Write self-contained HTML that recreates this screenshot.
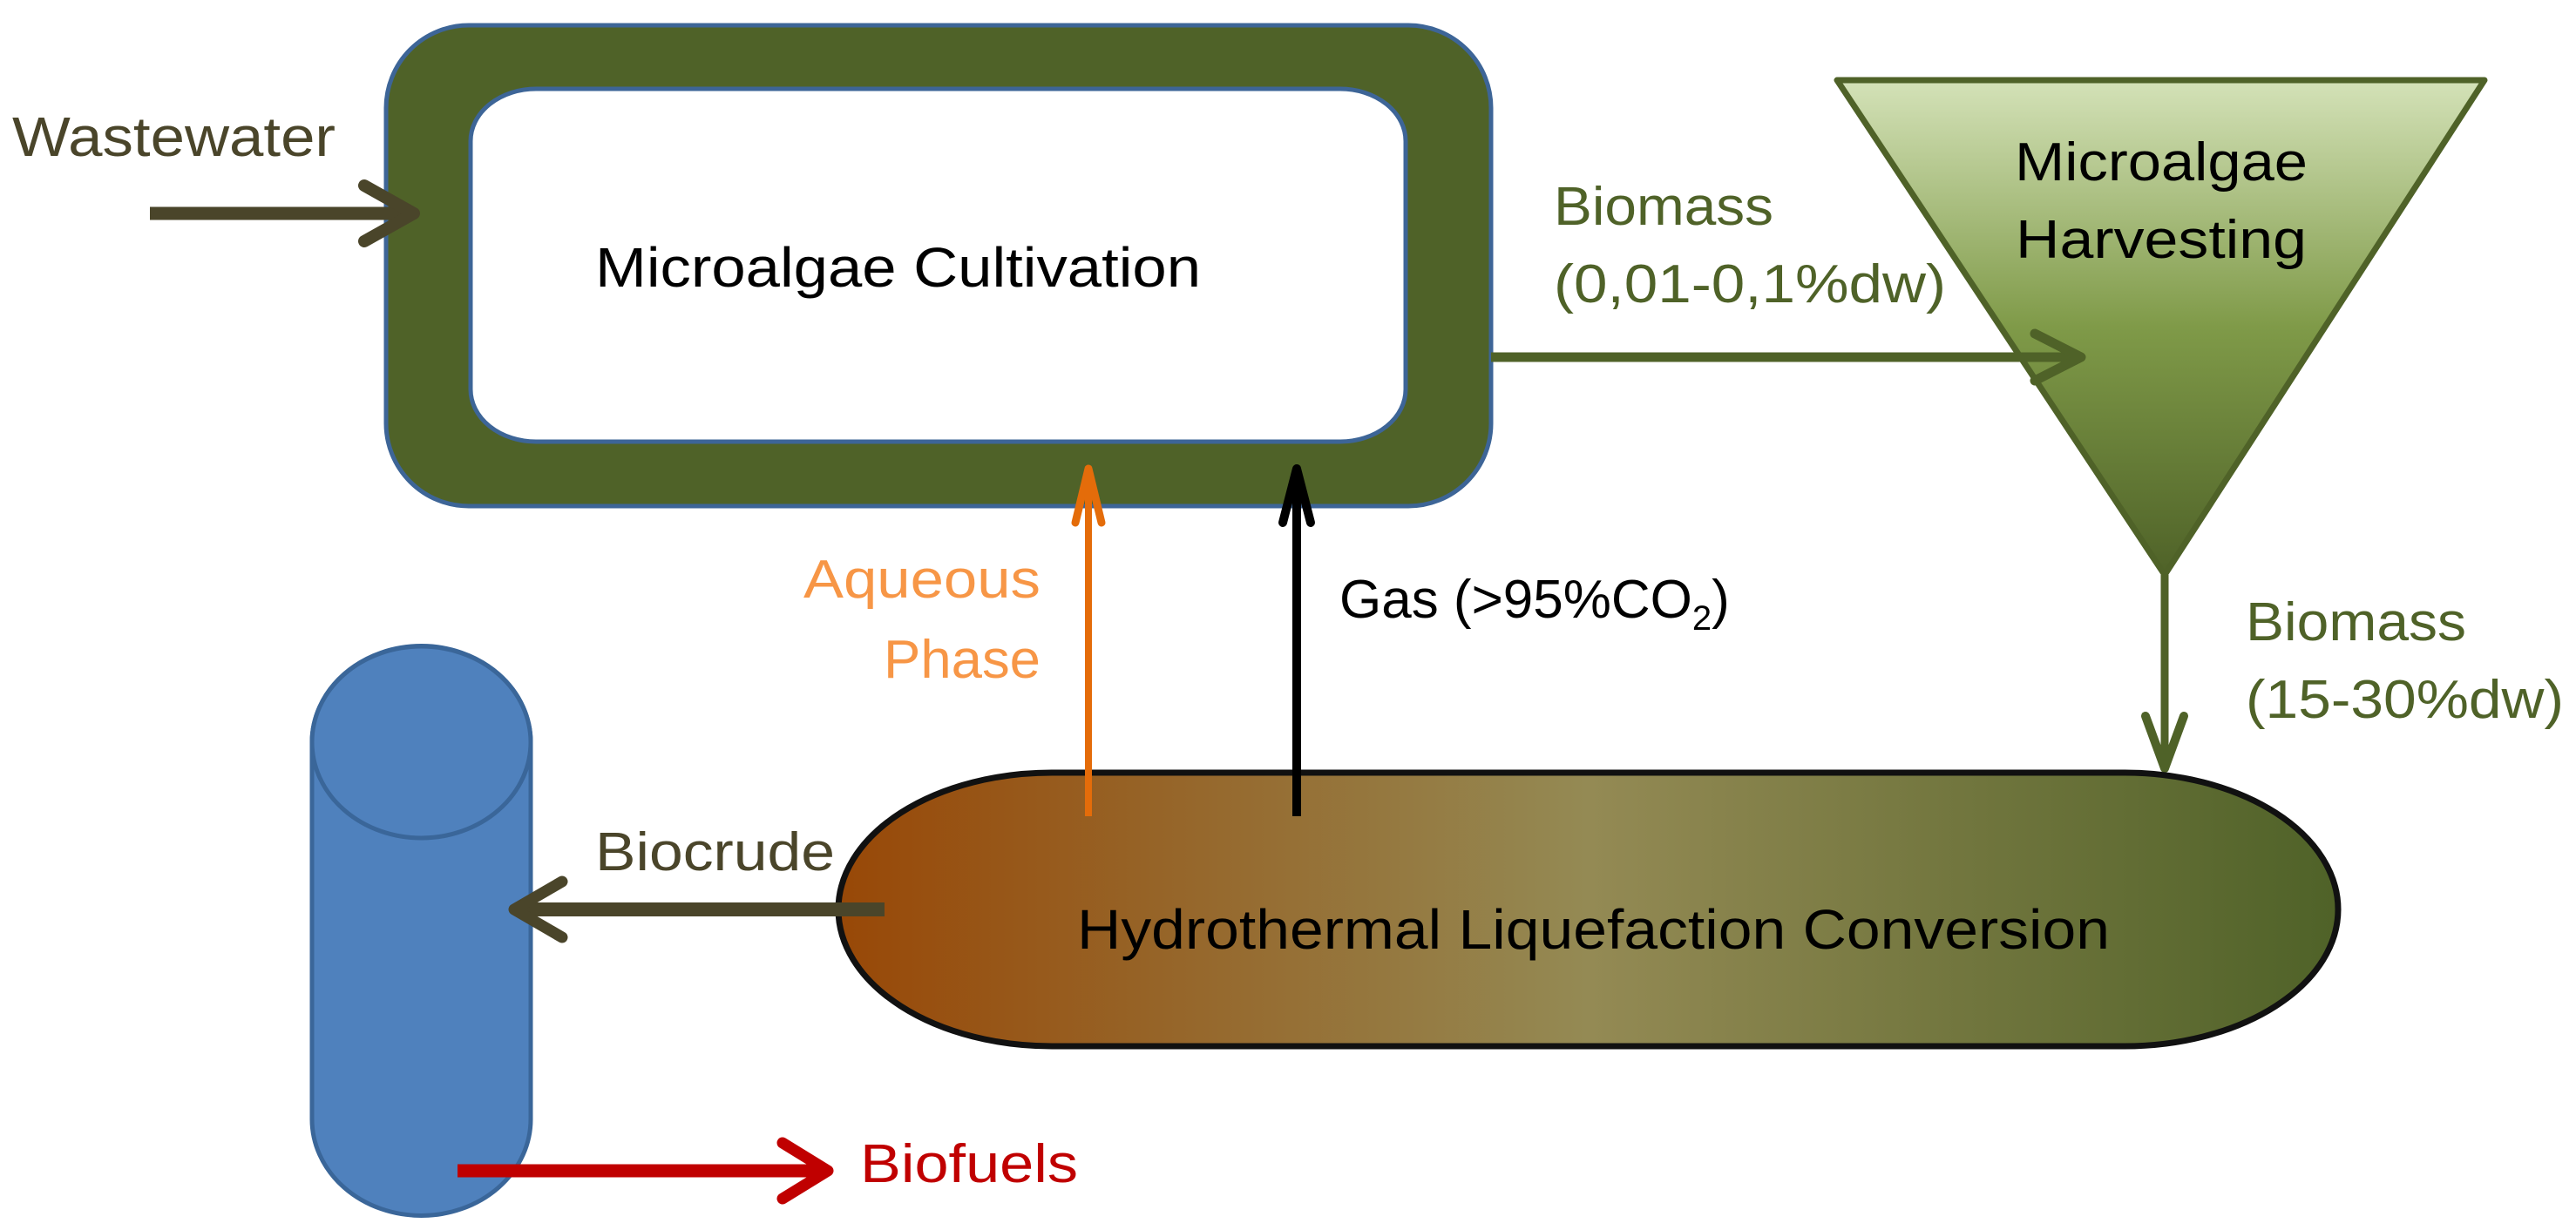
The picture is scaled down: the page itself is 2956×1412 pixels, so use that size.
<!DOCTYPE html>
<html><head><meta charset="utf-8"><style>html,body{margin:0;padding:0;background:#fff}svg{display:block}</style></head>
<body>
<svg width="2956" height="1412" viewBox="0 0 2956 1412" xmlns="http://www.w3.org/2000/svg" font-family="Liberation Sans, sans-serif">
<defs>
<linearGradient id="tri" x1="0" y1="0" x2="0" y2="1">
<stop offset="0" stop-color="#d4e2b8"/><stop offset="0.5" stop-color="#7f9a48"/><stop offset="1" stop-color="#4f6228"/>
</linearGradient>
<linearGradient id="pill" x1="0" y1="0" x2="1" y2="0">
<stop offset="0" stop-color="#984807"/><stop offset="0.5" stop-color="#948a54"/><stop offset="1" stop-color="#4f6228"/>
</linearGradient>
</defs>
<!-- cultivation -->
<rect x="443" y="29" width="1268" height="552" rx="95" ry="95" fill="#4f6228" stroke="#3d6597" stroke-width="5"/>
<rect x="540" y="102" width="1073" height="405" rx="75" ry="60" fill="#fff" stroke="#3d6597" stroke-width="5"/>
<text x="683" y="329" font-size="64" fill="#000" textLength="695" lengthAdjust="spacingAndGlyphs">Microalgae Cultivation</text>
<!-- wastewater -->
<text x="14" y="179" font-size="64" fill="#4a452a" textLength="371" lengthAdjust="spacingAndGlyphs">Wastewater</text>
<line x1="172" y1="245" x2="470" y2="245" stroke="#4a452a" stroke-width="15"/>
<polyline points="418,213 475,245 418,277" fill="none" stroke="#4a452a" stroke-width="14" stroke-linecap="round" stroke-linejoin="round"/>
<!-- triangle -->
<polygon points="2108,92 2851,92 2484,660" fill="url(#tri)" stroke="#4f6228" stroke-width="7" stroke-linejoin="round"/>
<text x="2480" y="207" font-size="62" fill="#000" text-anchor="middle" textLength="336" lengthAdjust="spacingAndGlyphs">Microalgae</text>
<text x="2480" y="296" font-size="62" fill="#000" text-anchor="middle" textLength="334" lengthAdjust="spacingAndGlyphs">Harvesting</text>
<!-- biomass horizontal -->
<line x1="1711" y1="410" x2="2385" y2="410" stroke="#4f6228" stroke-width="11"/>
<polyline points="2335,383 2388,410 2335,437" fill="none" stroke="#4f6228" stroke-width="11" stroke-linecap="round" stroke-linejoin="round"/>
<text x="1783" y="258" font-size="62" fill="#4f6228" textLength="252" lengthAdjust="spacingAndGlyphs">Biomass</text>
<text x="1783" y="347" font-size="62" fill="#4f6228" textLength="450" lengthAdjust="spacingAndGlyphs">(0,01-0,1%dw)</text>
<!-- biomass vertical -->
<line x1="2484" y1="660" x2="2484" y2="880" stroke="#4f6228" stroke-width="9"/>
<polyline points="2462,822 2484,882 2506,822" fill="none" stroke="#4f6228" stroke-width="10" stroke-linecap="round" stroke-linejoin="round"/>
<text x="2577" y="735" font-size="62" fill="#4f6228" textLength="253" lengthAdjust="spacingAndGlyphs">Biomass</text>
<text x="2577" y="824" font-size="62" fill="#4f6228" textLength="365" lengthAdjust="spacingAndGlyphs">(15-30%dw)</text>
<!-- pill -->
<rect x="962" y="887" width="1721" height="314" rx="245" ry="157" fill="url(#pill)" stroke="#111" stroke-width="7"/>
<text x="1236" y="1089" font-size="64" fill="#000" textLength="1185" lengthAdjust="spacingAndGlyphs">Hydrothermal Liquefaction Conversion</text>
<!-- aqueous / gas -->
<line x1="1249" y1="937" x2="1249" y2="540" stroke="#e46c0a" stroke-width="8"/>
<polyline points="1234,600 1249,538 1264,600" fill="none" stroke="#e46c0a" stroke-width="9" stroke-linecap="round" stroke-linejoin="round"/>
<line x1="1488" y1="937" x2="1488" y2="540" stroke="#000" stroke-width="10"/>
<polyline points="1472,600 1488,538 1504,600" fill="none" stroke="#000" stroke-width="10" stroke-linecap="round" stroke-linejoin="round"/>
<text x="1194" y="686" font-size="62" fill="#f79646" text-anchor="end" textLength="272" lengthAdjust="spacingAndGlyphs">Aqueous</text>
<text x="1194" y="778" font-size="62" fill="#f79646" text-anchor="end" textLength="180" lengthAdjust="spacingAndGlyphs">Phase</text>
<text x="1537" y="709" font-size="62" fill="#000">Gas (&gt;95%CO<tspan font-size="40" dy="14">2</tspan><tspan dy="-14">)</tspan></text>
<!-- cylinder -->
<path d="M358,852 A125,110 0 0 1 609,852 L609,1285 A125,110 0 0 1 358,1285 Z" fill="#4f81bd" stroke="#3a6699" stroke-width="5"/>
<ellipse cx="483.5" cy="852" rx="125.5" ry="110" fill="#4f81bd" stroke="#3a6699" stroke-width="5"/>
<!-- biocrude -->
<line x1="1015" y1="1044" x2="595" y2="1044" stroke="#4a452a" stroke-width="16"/>
<polyline points="645,1012 590,1044 645,1076" fill="none" stroke="#4a452a" stroke-width="13" stroke-linecap="round" stroke-linejoin="round"/>
<text x="683" y="999" font-size="62" fill="#4a452a" textLength="275" lengthAdjust="spacingAndGlyphs">Biocrude</text>
<!-- biofuels -->
<line x1="525" y1="1344" x2="945" y2="1344" stroke="#c00000" stroke-width="15"/>
<polyline points="898,1312 950,1344 898,1376" fill="none" stroke="#c00000" stroke-width="13" stroke-linecap="round" stroke-linejoin="round"/>
<text x="987" y="1357" font-size="62" fill="#c00000" textLength="250" lengthAdjust="spacingAndGlyphs">Biofuels</text>
</svg>
</body></html>
